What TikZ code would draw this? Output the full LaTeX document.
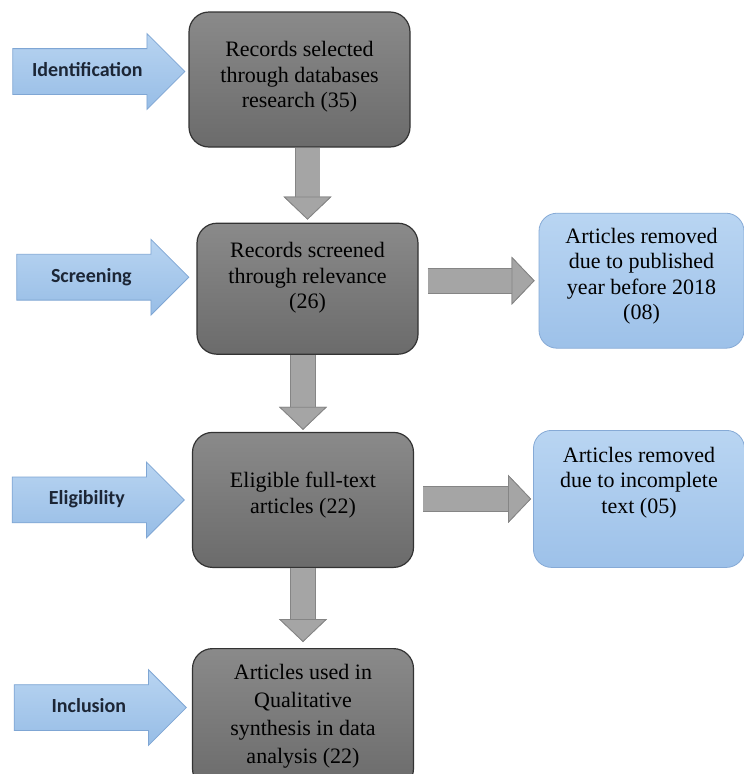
\documentclass[tikz,border=0pt]{standalone}
\usepackage{fontspec}
\setmainfont{Liberation Serif}
\setsansfont{Carlito}
\usepackage{xcolor}
\usetikzlibrary{positioning}
\usetikzlibrary{shapes.arrows}
\usetikzlibrary{arrows.meta}

\definecolor{recedge}{HTML}{333333}
\definecolor{rectop}{HTML}{8A8A8A}
\definecolor{recbot}{HTML}{6B6B6B}
\definecolor{remedge}{HTML}{86AAD6}
\definecolor{remtop}{HTML}{B9D5F2}
\definecolor{rembot}{HTML}{9DC1E9}
\definecolor{stageedge}{HTML}{7FA6D4}
\definecolor{stagetop}{HTML}{B8D4F1}
\definecolor{stagebot}{HTML}{97BDE6}
\definecolor{stagetext}{HTML}{1C2636}
\definecolor{linkfill}{HTML}{A5A5A5}
\definecolor{linkedge}{HTML}{858585}

\begin{document}
\begin{tikzpicture}[x=1pt, y=1pt,
  rec/.style={draw=recedge, line width=1.2pt, rounded corners=20pt, top color=rectop, bottom color=recbot, minimum width=221pt, align=center, font=\fontsize{22}{25.5}\selectfont},
  rem/.style={draw=remedge, line width=0.8pt, rounded corners=18pt, top color=remtop, bottom color=rembot, align=center, font=\fontsize{22}{25.5}\selectfont},
  stage/.style={single arrow, draw=stageedge, line width=0.8pt, top color=stagetop, bottom color=stagebot, minimum height=172pt, minimum width=75pt, single arrow head extend=15pt, inner xsep=0pt, inner ysep=13.5pt, text height=14pt, text depth=4pt, font=\sffamily\bfseries\fontsize{20}{24}\selectfont, text=stagetext},
  link/.style={line width=24pt, draw=linkfill, -{Triangle[length=23pt, width=48pt, line width=0.8pt, color=linkedge, fill=linkfill]}, preaction={draw=linkedge, line width=25.6pt}}
]
\useasboundingbox[fill=white] (0,0) rectangle (744,-774);

\node[rec, minimum height=135pt] (selected) at (299.5,-79.5) {Records selected\\through databases\\research (35)\\[-15.5pt]\mbox{}};
\node[rec, minimum height=131pt, below=75pt of selected, xshift=8pt] (screened) {Records screened\\through relevance\\(26)\\[0.5pt]\mbox{}};
\node[rec, minimum height=135pt, below=77pt of screened, xshift=-4.5pt] (eligible) {Eligible full-text\\articles (22)\\[-11.5pt]\mbox{}};
\node[rec, minimum height=140pt, below=80pt of eligible, font=\fontsize{22}{28}\selectfont] (used) {Articles used in\\Qualitative\\synthesis in data\\analysis (22)\\[-18pt]\mbox{}};

\node[rem, minimum width=205pt, minimum height=135pt, right=120pt of screened, yshift=8pt] (removedyear) {Articles removed\\due to published\\year before 2018\\(08)\\[-11.5pt]\mbox{}};
\node[rem, minimum width=211pt, minimum height=137pt, right=119pt of eligible, yshift=1pt] (removedtext) {Articles removed\\due to incomplete\\text (05)\\[12.5pt]\mbox{}};

\node[stage, left=3pt of selected, yshift=8pt] (identification) {Identification};
\node[stage, left=7pt of screened, yshift=11.5pt] (screening) {Screening};
\node[stage, left=7pt of eligible] (eligibility) {Eligibility};
\node[stage, left=5pt of used, yshift=11pt] (inclusion) {Inclusion};

\draw[link, shorten >=3pt] (selected.south -| screened.north) -- (screened.north);
\draw[link, shorten >=2pt] (screened.south -| eligible.north) -- (eligible.north);
\draw[link, shorten >=6pt] (eligible.south) -- (used.north);
\draw[link, shorten <=9pt, shorten >=4pt] (screened.east |- removedyear.west) -- (removedyear.west);
\draw[link, shorten <=9pt, shorten >=2pt] (eligible.east |- removedtext.west) -- (removedtext.west);

\end{tikzpicture}
\end{document}
